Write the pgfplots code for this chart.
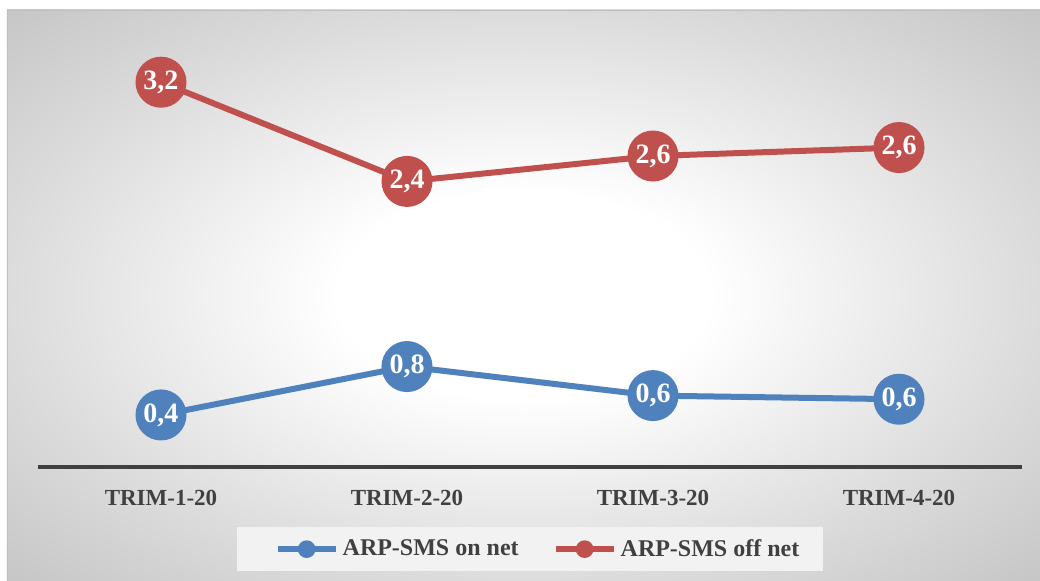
\documentclass[border=0pt]{standalone}
\usepackage{pgfplots}
\pgfplotsset{compat=1.18}
\usepackage{fontspec}
\setmainfont{Liberation Serif}

\definecolor{onnet}{HTML}{4F81BD}
\definecolor{offnet}{HTML}{C0504D}
\definecolor{axisgrey}{HTML}{404040}
\pgfdeclareradialshading{panel}{\pgfpoint{0bp}{0bp}}{%
  color(0bp)=(white); color(9bp)=(white); color(25bp)=(black!14);
  color(35bp)=(black!22); color(50bp)=(black!22)}

\begin{document}
\begin{tikzpicture}
% 1px of the reference = 0.5pt here; origin = lower left of the plot box
\useasboundingbox (-19pt,-57pt) rectangle (501pt,233.5pt);
\shade[shading=panel] (-15.5pt,-57pt) rectangle (501pt,228.5pt);
\draw[black!25] (-15.5pt,-57pt) |- (501pt,228.5pt);

\begin{axis}[
  at={(0,0)}, anchor=south west,
  scale only axis,
  width=492pt, height=211.75pt,
  xmin=-0.5, xmax=3.5,
  ymin=0, ymax=3.5,
  axis y line=none,
  axis x line*=bottom,
  x axis line style={draw=axisgrey, line width=2pt, -},
  xtick={0,1,2,3},
  xticklabels={TRIM-1-20,TRIM-2-20,TRIM-3-20,TRIM-4-20},
  major tick length=0pt,
  xticklabel style={font=\fontsize{11.5}{13}\selectfont\bfseries, text=axisgrey, yshift=-8pt},
  clip=false,
  point meta=explicit symbolic,
  nodes near coords,
  nodes near coords align={center},
  every node near coord/.append style={anchor=center, text=white,
    font=\fontsize{14}{16}\selectfont\bfseries},
  every axis plot/.append style={line width=3pt, mark=*, mark size=11.25pt},
  legend columns=2,
  legend style={at={(0.5,-0.194)}, anchor=center, draw=none,
    fill=white!95!black, font=\fontsize{12}{14}\selectfont\bfseries,
    text=axisgrey, inner xsep=10pt, inner ysep=4pt,
    /tikz/every even column/.append style={column sep=15pt}},
  legend image code/.code={
    \draw[line width=3pt] (0pt,0pt) -- (29pt,0pt);
    \fill (14.5pt,0pt) circle (2.9pt);},
]
\addplot[color=onnet, legend image code/.code={
    \path (-9pt,0pt);
    \draw[line width=3pt] (0pt,0pt) -- (29pt,0pt);
    \fill (14.5pt,0pt) circle (2.9pt);}] coordinates {
  (0,0.43) [0,4]
  (1,0.83) [0,8]
  (2,0.59) [0,6]
  (3,0.56) [0,6]
};
\addlegendentry{ARP-SMS on net}
\addplot[color=offnet] coordinates {
  (0,3.18) [3,2]
  (1,2.36) [2,4]
  (2,2.57) [2,6]
  (3,2.64) [2,6]
};
\addlegendentry{ARP-SMS off net}
\end{axis}
\end{tikzpicture}
\end{document}
